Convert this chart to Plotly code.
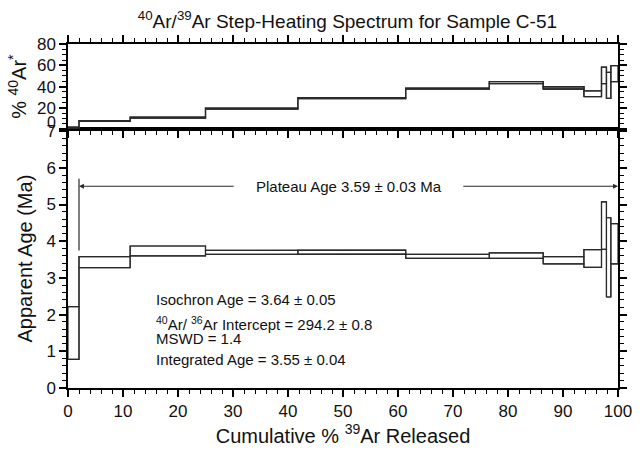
import plotly.graph_objects as go

# ---- data ----
step_edges = [0, 2.0, 11.3, 25.0, 41.8, 61.4, 76.6, 86.4, 93.8, 97.0, 97.9, 98.7, 100]
age_lo = [0.78, 3.28, 3.60, 3.64, 3.65, 3.53, 3.53, 3.38, 3.29, 3.78, 2.48, 3.38]
age_hi = [2.22, 3.58, 3.87, 3.75, 3.76, 3.64, 3.68, 3.58, 3.77, 5.07, 4.64, 4.48]
ar40_lo = [1.2, 7.4, 10.5, 19.0, 28.7, 37.7, 42.8, 37.6, 30.6, 42.8, 29.1, 44.7]
ar40_hi = [2.0, 8.2, 11.3, 19.8, 29.6, 38.7, 44.7, 40.1, 36.1, 58.4, 53.4, 59.8]
grey_step = 7  # index of step with grey fill in top panel

plateau_start = 2.0
plateau_end = 100.0
plateau_y = 5.5
plateau_marker_lo = 3.75
plateau_marker_hi = 5.7
plateau_label = "Plateau Age 3.59 ± 0.03 Ma"
plateau_gap = [30.4, 71.6]

info_lines = [
    "Isochron Age = 3.64 ± 0.05",
    "<sup>40</sup>Ar/ <sup>36</sup>Ar Intercept = 294.2 ± 0.8",
    "MSWD = 1.4",
    "Integrated Age = 3.55 ± 0.04",
]
info_y = [2.42, 1.77, 1.34, 0.78]
info_x = 15.7

FONT = "Liberation Sans, Arial, Helvetica, sans-serif"
INK = "#000000"
TXT = "#111111"
LINE = "#2a2a2a"


def box_path(edges, lo, hi):
    xs, ys = [], []
    for i in range(len(lo)):
        x0, x1 = edges[i], edges[i + 1]
        xs += [x0, x1, x1, x0, x0, None]
        ys += [lo[i], lo[i], hi[i], hi[i], lo[i], None]
    return xs, ys


def step_path(edges, vals):
    xs, ys = [], []
    for i, v in enumerate(vals):
        xs += [edges[i], edges[i + 1]]
        ys += [v, v]
    return xs, ys


def add_spectrum(fig, lo, hi, xa, ya, width):
    bx, by = box_path(step_edges, lo, hi)
    fig.add_trace(go.Scatter(x=bx, y=by, mode="lines", line=dict(color=LINE, width=width),
                             xaxis=xa, yaxis=ya, hoverinfo="skip", showlegend=False))
    for vals in (lo, hi):
        sx, sy = step_path(step_edges, vals)
        fig.add_trace(go.Scatter(x=sx, y=sy, mode="lines", line=dict(color=LINE, width=width),
                                 xaxis=xa, yaxis=ya, hoverinfo="skip", showlegend=False))


fig = go.Figure()

# top panel grey-filled step
gx = [step_edges[grey_step], step_edges[grey_step + 1], step_edges[grey_step + 1],
      step_edges[grey_step], step_edges[grey_step]]
gy = [ar40_lo[grey_step], ar40_lo[grey_step], ar40_hi[grey_step], ar40_hi[grey_step],
      ar40_lo[grey_step]]
fig.add_trace(go.Scatter(x=gx, y=gy, mode="lines", fill="toself", fillcolor="#8a8a8a",
                         line=dict(color=LINE, width=1.2),
                         xaxis="x2", yaxis="y2", hoverinfo="skip", showlegend=False))

add_spectrum(fig, age_lo, age_hi, "x", "y", 1.2)
add_spectrum(fig, ar40_lo, ar40_hi, "x2", "y2", 1.3)

# plateau marker
fig.add_shape(type="line", xref="x", yref="y", x0=plateau_start, x1=plateau_start,
              y0=plateau_marker_lo, y1=plateau_marker_hi, line=dict(color=LINE, width=1.2))

annotations = []
annotations.append(dict(x=plateau_start, y=plateau_y, ax=plateau_gap[0], ay=plateau_y,
                        xref="x", yref="y", axref="x", ayref="y", text="",
                        showarrow=True, arrowhead=2, arrowsize=0.9, arrowwidth=1.1,
                        arrowcolor=LINE, standoff=0))
annotations.append(dict(x=plateau_end, y=plateau_y, ax=plateau_gap[1], ay=plateau_y,
                        xref="x", yref="y", axref="x", ayref="y", text="",
                        showarrow=True, arrowhead=2, arrowsize=0.9, arrowwidth=1.1,
                        arrowcolor=LINE, standoff=0))
annotations.append(dict(x=(plateau_gap[0] + plateau_gap[1]) / 2, y=plateau_y, xref="x", yref="y",
                        text=plateau_label, showarrow=False,
                        font=dict(family=FONT, size=15, color=TXT)))
for t, yy in zip(info_lines, info_y):
    annotations.append(dict(x=info_x, y=yy, xref="x", yref="y", text=t, showarrow=False,
                            xanchor="left", yanchor="middle",
                            font=dict(family=FONT, size=15, color=TXT)))
# "0" label of top panel (lifted above the panel boundary)
annotations.append(dict(x=0, y=0, xref="paper", yref="y2", text="0", showarrow=False,
                        xanchor="right", yanchor="middle", xshift=-10, yshift=7,
                        font=dict(family=FONT, size=16, color=TXT)))

axis_common = dict(showgrid=False, zeroline=False, showline=True, linecolor=INK, linewidth=1.5,
                   ticks="outside", ticklen=7, tickwidth=1.6, tickcolor=INK,
                   tickfont=dict(family=FONT, size=17, color=TXT))


def minor(d):
    return dict(dtick=d, ticklen=4, tickwidth=1.3, tickcolor=INK, ticks="outside")


fig.update_layout(
    width=644, height=453,
    margin=dict(l=68, r=17, t=44, b=57),
    paper_bgcolor="white", plot_bgcolor="white",
    font=dict(family=FONT, color=TXT),
    title=dict(text="<sup>40</sup>Ar/<sup>39</sup>Ar Step-Heating Spectrum for Sample C-51",
               x=0.5395, xanchor="center", y=0.952, yanchor="middle",
               font=dict(family=FONT, size=19, color=TXT)),
    xaxis=dict(**axis_common, range=[0, 100], tick0=0, dtick=10, mirror=True, anchor="y",
               minor=minor(2),
               title=dict(text="Cumulative % <sup>39</sup>Ar Released",
                          font=dict(family=FONT, size=20, color=TXT), standoff=6)),
    xaxis2=dict(**axis_common, range=[0, 100], tick0=0, dtick=10, mirror="ticks", anchor="y2",
                matches="x", showticklabels=False, minor=minor(2)),
    yaxis=dict(**axis_common, range=[0, 7.05], tick0=0, dtick=1, mirror="ticks",
               domain=[0, 0.752], anchor="x", minor=minor(0.2),
               title=dict(text="Apparent Age (Ma)", font=dict(family=FONT, size=20, color=TXT),
                          standoff=8)),
    yaxis2=dict(**axis_common, range=[0, 80], tick0=0, dtick=20, mirror="ticks",
                domain=[0.752, 1], anchor="x2", minor=minor(5),
                labelalias={"0": " "},
                title=dict(text="% <sup>40</sup>Ar<sup>*</sup>",
                           font=dict(family=FONT, size=20, color=TXT), standoff=5)),
    annotations=annotations,
)

fig.write_html("out.html")
